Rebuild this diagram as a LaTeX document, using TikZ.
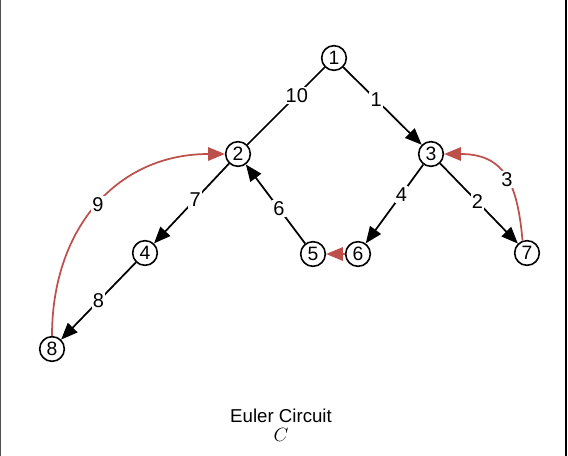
\documentclass[tikz,border=0pt]{standalone}
\usepackage{fontspec}
\setmainfont{Liberation Sans}
\usepackage{tikz}
\usetikzlibrary{
  arrows.meta,
  positioning
}
\definecolor{tourred}{RGB}{190,80,76}
\definecolor{framegray}{RGB}{80,80,80}

\begin{document}
\begin{tikzpicture}[x=0.75pt, y=-0.75pt,
            vertex/.style={circle, draw=black, fill=white, line width=1.2pt, inner sep=0pt, minimum size=18.5pt, font=\fontsize{14.5}{16}\selectfont},
            edge/.style={draw=black, line width=1.3pt},
            arc/.style={edge, -{Triangle[length=12.5pt, width=10pt]}},
            tourarc/.style={draw=tourred, line width=1.3pt, -{Triangle[length=12.5pt, width=10pt]}},
            weight/.style={fill=white, inner sep=1pt, font=\fontsize{15}{17}\selectfont}]
    \useasboundingbox (0,0) rectangle (568,456);
    \draw[framegray, line width=0.8pt] (0.5,0) -- (0.5,456);
    \draw[black, line width=1.5pt] (565.5,0) -- (565.5,456);
    \node [vertex] (v1) at (334,58) {1};
    \node [vertex] (v2) at (238,154) {2};
    \node [vertex] (v3) at (431,154) {3};
    \node [vertex] (v4) at (145,253) {4};
    \node [vertex] (v5) at (313,254) {5};
    \node [vertex] (v6) at (358,254) {6};
    \node [vertex] (v7) at (527,253) {7};
    \node [vertex] (v8) at (52,349) {8};
    \draw [edge] (v1) -- node[weight, pos=0.36] {10} (v2);
    \draw [arc] (v1) -- node[weight, pos=0.42] {1} (v3);
    \draw [arc] (v3) -- node[weight, pos=0.48] {2} (v7);
    \draw [tourarc] (v7.110) to[out=95, in=0, looseness=1.3] node[weight, pos=0.45] {3} (v3);
    \draw [arc] (v3) -- node[weight, pos=0.38] {4} (v6);
    \draw [tourarc] (v6) -- (v5);
    \draw [arc] (v5) -- node[weight, pos=0.44] {6} (v2);
    \draw [arc] (v2) -- node[weight, pos=0.45] {7} (v4);
    \draw [arc] (v4) -- node[weight, pos=0.5] {8} (v8);
    \draw [tourarc] (v8) to[out=90, in=180, looseness=1.1] node[weight, pos=0.5] {9} (v2);
    \node [font=\fontsize{14}{16}\selectfont] (caption) at (281,416) {Euler Circuit};
    \node [below=-3pt of caption, font=\fontsize{15}{17}\selectfont] (tour) {$C$};
\end{tikzpicture}
\end{document}
